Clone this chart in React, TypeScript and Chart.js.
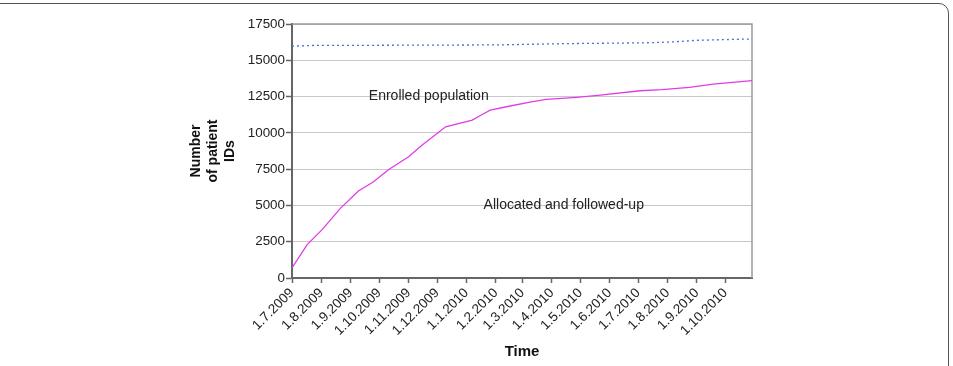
import { useEffect, useRef } from "react";
import { Chart, registerables } from "chart.js";

Chart.register(...registerables);

// Month-start labels along the time axis (d.m.yyyy)
const tickLabels = [
  "1.7.2009", "1.8.2009", "1.9.2009", "1.10.2009", "1.11.2009", "1.12.2009",
  "1.1.2010", "1.2.2010", "1.3.2010", "1.4.2010", "1.5.2010", "1.6.2010",
  "1.7.2010", "1.8.2010", "1.9.2010", "1.10.2010",
];

// Days since 1.7.2009 and cumulative counts of patient IDs
const allocatedDays = [0, 16, 32, 51, 70, 86, 102, 123, 137, 162, 190, 200, 209, 230, 251, 268, 300, 325, 367, 390, 419, 444, 485];
const allocatedValues = [700, 2300, 3350, 4800, 5990, 6630, 7480, 8350, 9150, 10420, 10880, 11250, 11570, 11850, 12120, 12300, 12450, 12600, 12900, 12980, 13140, 13360, 13600];

const enrolledDays = [0, 20, 217, 290, 370, 400, 428, 485];
const enrolledValues = [15970, 16020, 16060, 16150, 16200, 16260, 16380, 16470];

const yMax = 17500;
const yStep = 2500;
const xMaxDay = 485;

const START = Date.UTC(2009, 6, 1);
const DAY_MS = 86400000;
const dayOf = (label: string) => {
  const [d, m, y] = label.split(".").map(Number);
  return Math.round((Date.UTC(y, m - 1, d) - START) / DAY_MS);
};
const tickDays = tickLabels.map(dayOf);

const FONT = '"Liberation Sans", Arial, Helvetica, sans-serif';

const notes = [
  { text: "Enrolled population", day: 81, value: 12500 },
  { text: "Allocated and followed-up", day: 202, value: 5000 },
];

const framePlugin = {
  id: "plotFrame",
  beforeDatasetsDraw(chart: any) {
    const { ctx, chartArea } = chart;
    ctx.save();
    ctx.strokeStyle = "#9a9a9a";
    ctx.lineWidth = 1.5;
    ctx.beginPath();
    ctx.moveTo(chartArea.left, chartArea.top);
    ctx.lineTo(chartArea.right, chartArea.top);
    ctx.lineTo(chartArea.right, chartArea.bottom);
    ctx.stroke();
    ctx.restore();
  },
};

const notesPlugin = {
  id: "seriesNotes",
  afterDatasetsDraw(chart: any) {
    const { ctx, scales } = chart;
    ctx.save();
    ctx.font = `14px ${FONT}`;
    ctx.fillStyle = "#222";
    ctx.textAlign = "left";
    ctx.textBaseline = "middle";
    for (const n of notes) {
      ctx.fillText(n.text, scales.x.getPixelForValue(n.day), scales.y.getPixelForValue(n.value));
    }
    ctx.restore();
  },
};

export default function App() {
  const canvasRef = useRef<HTMLCanvasElement | null>(null);

  useEffect(() => {
    const canvas = canvasRef.current;
    if (!canvas) return;
    const chart = new Chart(canvas, {
      type: "line",
      data: {
        datasets: [
          {
            label: "Enrolled population",
            data: enrolledDays.map((d, i) => ({ x: d, y: enrolledValues[i] })),
            borderColor: "#4a6fd0",
            borderWidth: 1.3,
            borderDash: [2, 3],
            pointRadius: 0,
            tension: 0,
            fill: false,
          },
          {
            label: "Allocated and followed-up",
            data: allocatedDays.map((d, i) => ({ x: d, y: allocatedValues[i] })),
            borderColor: "#e03ce6",
            borderWidth: 1.3,
            pointRadius: 0,
            tension: 0,
            fill: false,
          },
        ],
      },
      options: {
        animation: false,
        responsive: false,
        maintainAspectRatio: false,
        layout: { padding: { left: 184, right: 201, top: 24, bottom: 4 } },
        plugins: {
          legend: { display: false },
          tooltip: { enabled: false },
        },
        scales: {
          x: {
            type: "linear",
            min: 0,
            max: xMaxDay,
            afterBuildTicks: (scale: any) => {
              scale.ticks = tickDays.map((v) => ({ value: v }));
            },
            afterFit: (scale: any) => {
              scale.height = 84;
            },
            grid: {
              drawOnChartArea: false,
              drawTicks: true,
              tickLength: 5,
              tickColor: "#666",
              tickWidth: 1.5,
            },
            border: { color: "#666", width: 2 },
            ticks: {
              autoSkip: false,
              minRotation: 45,
              maxRotation: 45,
              padding: 2,
              color: "#222",
              font: { family: FONT, size: 13.5 },
              callback: (value: any) => {
                const i = tickDays.indexOf(Number(value));
                return i >= 0 ? tickLabels[i] : "";
              },
            },
            title: {
              display: true,
              text: "Time",
              color: "#111",
              font: { family: FONT, size: 15, weight: "bold" },
              padding: { top: 0, bottom: 1 },
            },
          },
          y: {
            min: 0,
            max: yMax,
            afterFit: (scale: any) => {
              scale.width = 108;
            },
            grid: {
              color: "#c8c8c8",
              lineWidth: 1,
              tickLength: 6,
              tickColor: "#666",
              tickWidth: 1.5,
            },
            border: { color: "#666", width: 2 },
            ticks: {
              stepSize: yStep,
              padding: 1,
              color: "#222",
              font: { family: FONT, size: 13.4 },
              callback: (value: any) => String(value),
            },
            title: {
              display: true,
              text: ["Number", "of patient", "IDs"],
              color: "#111",
              font: { family: FONT, size: 14, weight: "bold" },
              padding: { top: 4, bottom: 4 },
            },
          },
        },
      },
      plugins: [framePlugin, notesPlugin],
    } as any);
    return () => chart.destroy();
  }, []);

  return (
    <div
      style={{
        position: "fixed",
        left: 0,
        top: 0,
        width: 953,
        height: 366,
        overflow: "hidden",
        background: "#fff",
      }}
    >
      <div
        style={{
          position: "absolute",
          left: -30,
          top: 3,
          width: 30 + 949,
          height: 420,
          boxSizing: "border-box",
          border: "1.5px solid #555",
          borderRadius: 10,
        }}
      />
      <canvas
        ref={canvasRef}
        width={953}
        height={366}
        style={{ position: "absolute", left: 0, top: 0, width: 953, height: 366 }}
      />
    </div>
  );
}
